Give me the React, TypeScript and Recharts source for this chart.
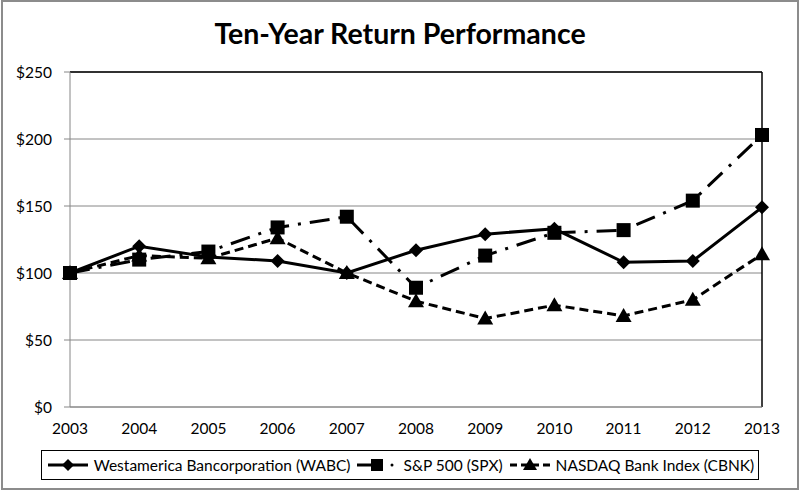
import React from 'react';
import { LineChart, Line, XAxis, YAxis, CartesianGrid, Legend, ReferenceLine } from 'recharts';

const years = ['2003', '2004', '2005', '2006', '2007', '2008', '2009', '2010', '2011', '2012', '2013'];
const wabc = [100, 120, 112, 109, 100, 117, 129, 133, 108, 109, 149];
const spx = [100, 110, 116, 134, 142, 89, 113, 130, 132, 154, 203];
const cbnk = [100, 113, 111, 126, 100, 79, 66, 76, 68, 80, 114];
const yTicks = [0, 50, 100, 150, 200, 250];

const data = years.map((year, i) => ({ year, wabc: wabc[i], spx: spx[i], cbnk: cbnk[i] }));

const FONT = 'Lato, "Open Sans", sans-serif';
const GRID = '#868686';

const Diamond = (props: any) => {
  const { cx, cy } = props;
  if (cx == null || cy == null) return null;
  return <polygon points={`${cx},${cy - 7} ${cx + 7},${cy} ${cx},${cy + 7} ${cx - 7},${cy}`} fill="#000" />;
};

const Square = (props: any) => {
  const { cx, cy } = props;
  if (cx == null || cy == null) return null;
  return <rect x={cx - 7} y={cy - 7} width={14} height={14} fill="#000" />;
};

const Triangle = (props: any) => {
  const { cx, cy } = props;
  if (cx == null || cy == null) return null;
  return <polygon points={`${cx},${cy - 8} ${cx + 8},${cy + 6} ${cx - 8},${cy + 6}`} fill="#000" />;
};

const LegendBox: React.FC<any> = () => (
  <div
    style={{
      boxSizing: 'border-box',
      height: 30,
      border: '1.5px solid #000',
      display: 'flex',
      alignItems: 'center',
      justifyContent: 'center',
      fontFamily: FONT,
      fontSize: 15.5,
      color: '#000',
      whiteSpace: 'nowrap',
    }}
  >
    <svg width={44} height={16}>
      <line x1={2} y1={8} x2={42} y2={8} stroke="#000" strokeWidth={3} />
      <polygon points="22,2 28,8 22,14 16,8" fill="#000" />
    </svg>
    <span style={{ marginLeft: 4, marginRight: 5 }}>Westamerica Bancorporation (WABC)</span>
    <svg width={44} height={16}>
      <line x1={2} y1={8} x2={16} y2={8} stroke="#000" strokeWidth={3} />
      <rect x={16} y={2} width={12} height={12} fill="#000" />
      <circle cx={37} cy={8} r={1.5} fill="#000" />
    </svg>
    <span style={{ marginLeft: 4, marginRight: 5 }}>S&amp;P 500 (SPX)</span>
    <svg width={44} height={16}>
      <line x1={2} y1={8} x2={42} y2={8} stroke="#000" strokeWidth={3} strokeDasharray="7 4" />
      <polygon points="22,1 29,13 15,13" fill="#000" />
    </svg>
    <span style={{ marginLeft: 4 }}>NASDAQ Bank Index (CBNK)</span>
  </div>
);

export default function App() {
  return (
    <div style={{ position: 'absolute', left: 0, top: 0, width: 800, height: 491, background: '#fff' }}>
      <div
        style={{
          position: 'absolute',
          left: 1,
          top: 0,
          width: 798,
          height: 490,
          boxSizing: 'border-box',
          border: '2px solid #8c8c8c',
        }}
      />
      <div
        style={{
          position: 'absolute',
          left: 0,
          top: 16,
          width: 800,
          textAlign: 'center',
          fontFamily: FONT,
          fontWeight: 'bold',
          fontSize: 28.5,
          color: '#000',
        }}
      >
        Ten-Year Return Performance
      </div>
      <div style={{ position: 'absolute', left: 0, top: 0 }}>
        <LineChart width={800} height={491} data={data} margin={{ top: 72, right: 38, left: 0, bottom: 24 }}>
          <CartesianGrid vertical={false} stroke={GRID} strokeWidth={1} />
          <XAxis
            dataKey="year"
            height={30}
            axisLine={{ stroke: GRID }}
            tickLine={false}
            tickSize={0}
            tickMargin={16}
            tick={{ fill: '#000', fontSize: 15.5, fontFamily: FONT }}
            interval={0}
          />
          <YAxis
            width={70}
            domain={[0, 250]}
            ticks={yTicks}
            tickFormatter={(v: number) => `$${v}`}
            axisLine={{ stroke: GRID }}
            tickLine={{ stroke: GRID }}
            tickSize={6}
            tickMargin={12}
            tick={{ fill: '#000', fontSize: 15.5, fontFamily: FONT }}
          />
          <ReferenceLine y={250} stroke="#000" strokeWidth={1.5} />
          <ReferenceLine x="2013" stroke="#000" strokeWidth={1.5} />
          <Legend
            verticalAlign="bottom"
            content={<LegendBox />}
            wrapperStyle={{ left: 41, width: 718, bottom: 11 }}
          />
          <Line
            dataKey="cbnk"
            stroke="#000"
            strokeWidth={3}
            strokeDasharray="9 5"
            dot={<Triangle />}
            activeDot={false}
            isAnimationActive={false}
          />
          <Line
            dataKey="spx"
            stroke="#000"
            strokeWidth={3}
            strokeDasharray="20 9 3 9"
            dot={<Square />}
            activeDot={false}
            isAnimationActive={false}
          />
          <Line
            dataKey="wabc"
            stroke="#000"
            strokeWidth={3}
            dot={<Diamond />}
            activeDot={false}
            isAnimationActive={false}
          />
        </LineChart>
      </div>
    </div>
  );
}
